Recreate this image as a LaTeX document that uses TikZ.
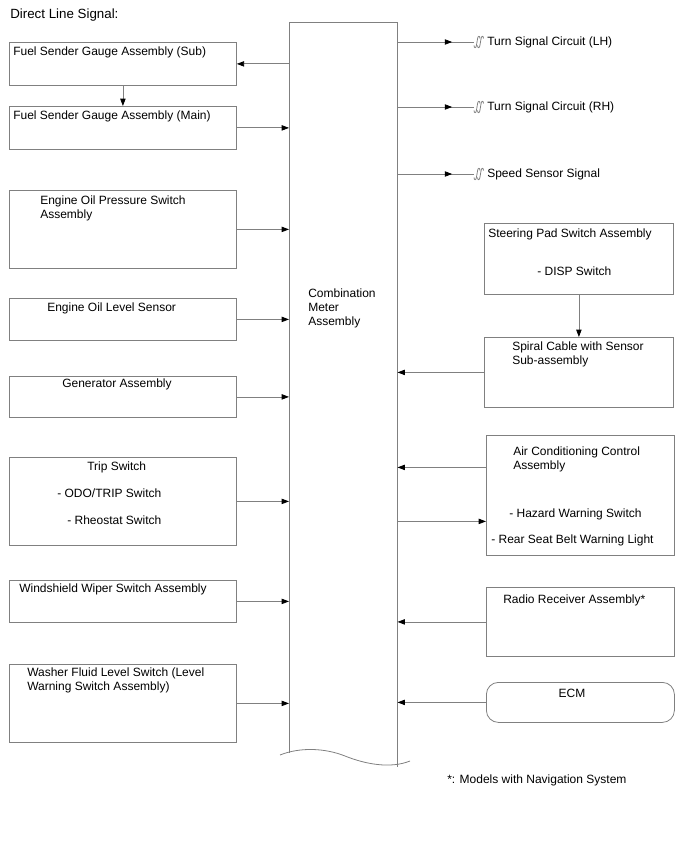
\documentclass[tikz,border=0pt]{standalone}
\usepackage{fontspec}
\setmainfont{Liberation Sans}
\usetikzlibrary{arrows.meta,decorations.markings}
\definecolor{linegray}{RGB}{128,128,128}

\tikzset{
    line/.style={draw=linegray, line width=0.6pt},
    sig/.style={line, -{Triangle[length=5.5pt,width=4pt,color=black]}},
    midsig/.style={line, postaction={decorate},
        decoration={markings, mark=at position #1 with {\arrow{Triangle[length=5.5pt,width=4pt,color=black]}}}},
    box/.style={line, anchor=north west, inner sep=0pt},
    txt/.style={anchor=west, inner sep=0pt, align=left, font=\fontsize{9}{10.5}\selectfont},
    brk/.pic={
        \draw[line] (-3,3.5) .. controls (-3,6.5) and (-0.8,6.5) .. (-0.5,3) -- (0.5,-3) .. controls (0.8,-6.5) and (3,-6.5) .. (3,-3.5);
        \draw[line] (0.5,3.5) .. controls (0.5,6.5) and (2.7,6.5) .. (3,3) -- (4,-3) .. controls (4.3,-6.5) and (6.5,-6.5) .. (6.5,-3.5);
    }
}

\begin{document}
\begin{tikzpicture}[x=0.75pt, y=-0.75pt]
    \useasboundingbox (0,0) rectangle (688,852);
    \node[txt, font=\fontsize{10}{12}\selectfont] (title) at (10,15) {Direct Line Signal:};

    % Combination meter, open at the bottom
    \node[inner sep=0pt, anchor=north west, minimum width=81pt, minimum height=558pt] (meter) at (289,22) {};
    \draw[line] ([yshift=10.5pt]meter.south west) -- (meter.north west) -- (meter.north east) -- (meter.south east);
    \draw[line] (280,755) .. controls (300,747) and (325,748) .. (345,756)
        .. controls (365,764) and (390,769) .. (410,761);
    \node[txt] (metertxt) at (308,308) {Combination\\Meter\\Assembly};

    % Left side
    \node[box, minimum width=170.25pt, minimum height=32.25pt] (fsub) at (9,42) {};
    \node[box, minimum width=170.25pt, minimum height=32.25pt] (fmain) at (9,106) {};
    \node[box, minimum width=170.25pt, minimum height=58.5pt] (oilp) at (9,190) {};
    \node[box, minimum width=170.25pt, minimum height=31.5pt] (oill) at (9,298) {};
    \node[box, minimum width=170.25pt, minimum height=30.75pt] (gen) at (9,376) {};
    \node[box, minimum width=170.25pt, minimum height=66pt] (trip) at (9,457) {};
    \node[box, minimum width=170.25pt, minimum height=31.5pt] (wiper) at (9,580) {};
    \node[box, minimum width=170.25pt, minimum height=58.5pt] (washer) at (9,664) {};

    \node[txt] (fsubtxt) at (13,52) {Fuel Sender Gauge Assembly (Sub)};
    \node[txt] (fmaintxt) at (13,116) {Fuel Sender Gauge Assembly (Main)};
    \node[txt] (oilptxt) at (40,208) {Engine Oil Pressure Switch\\Assembly};
    \node[txt] (oilltxt) at (47,308) {Engine Oil Level Sensor};
    \node[txt] (gentxt) at (62,384) {Generator Assembly};
    \node[txt] (triptxt) at (87,467) {Trip Switch};
    \node[txt] (odotxt) at (57,493) {- ODO/TRIP Switch};
    \node[txt] (rheotxt) at (67,520) {- Rheostat Switch};
    \node[txt] (wipertxt) at (19,589) {Windshield Wiper Switch Assembly};
    \node[txt] (washertxt) at (27,680) {Washer Fluid Level Switch (Level\\Warning Switch Assembly)};

    \draw[sig] (meter.west |- fsub) -- (fsub);
    \draw[sig] (fsub) -- (fmain);
    \draw[sig] (fmain) -- (meter.west |- fmain);
    \draw[sig] (oilp) -- (meter.west |- oilp);
    \draw[sig] (oill) -- (meter.west |- oill);
    \draw[sig] (gen) -- (meter.west |- gen);
    \draw[sig] (trip) -- (meter.west |- trip);
    \draw[sig] (wiper) -- (meter.west |- wiper);
    \draw[sig] (washer) -- (meter.west |- washer);

    % Right side: lines leaving the page
    \node[txt] (lhtxt) at (487,42) {Turn Signal Circuit (LH)};
    \node[txt] (rhtxt) at (487,107) {Turn Signal Circuit (RH)};
    \node[txt] (spdtxt) at (487,174) {Speed Sensor Signal};
    \coordinate (lhend) at (474,42);
    \coordinate (rhend) at (474,107);
    \coordinate (spdend) at (474,174);
    \draw[midsig=0.714] (meter.east |- lhend) -- (lhend);
    \draw[midsig=0.714] (meter.east |- rhend) -- (rhend);
    \draw[midsig=0.714] (meter.east |- spdend) -- (spdend);
    \pic at (477,42) {brk};
    \pic at (477,107) {brk};
    \pic at (477,174) {brk};

    % Right side boxes
    \node[box, minimum width=141.75pt, minimum height=53.25pt] (steer) at (484,223) {};
    \node[box, minimum width=141.75pt, minimum height=52.5pt] (spiral) at (484,337) {};
    \node[box, minimum width=141pt, minimum height=90pt] (aircon) at (486,435) {};
    \node[box, minimum width=141pt, minimum height=51.75pt] (radio) at (486,587) {};
    \node[box, minimum width=141pt, minimum height=30pt, rounded corners=9pt] (ecm) at (486,682) {};

    \node[txt] (steertxt) at (488,234) {Steering Pad Switch Assembly};
    \node[txt] (disptxt) at (537,271) {- DISP Switch};
    \node[txt] (spiraltxt) at (512,354) {Spiral Cable with Sensor\\Sub-assembly};
    \node[txt] (aircontxt) at (513,459.5) {Air Conditioning Control\\Assembly};
    \node[txt] (hazardtxt) at (509,514) {- Hazard Warning Switch};
    \node[txt] (belttxt) at (491,540) {- Rear Seat Belt Warning Light};
    \node[txt] (radiotxt) at (503,600) {Radio Receiver Assembly*};
    \node[txt, anchor=center] (ecmtxt) at (572,693) {ECM};

    \coordinate (acin) at ([yshift=21pt]aircon.west);
    \coordinate (acout) at ([yshift=-19.5pt]aircon.west);
    \draw[sig] (steer) -- (spiral);
    \draw[sig] (spiral) -- (meter.east |- spiral);
    \draw[sig] (acin) -- (meter.east |- acin);
    \draw[sig] (meter.east |- acout) -- (acout);
    \draw[sig] (radio) -- (meter.east |- radio);
    \draw[sig] (ecm) -- (meter.east |- ecm);

    \node[txt] (notetxt) at (447,780) {*: Models with Navigation System};
\end{tikzpicture}
\end{document}
